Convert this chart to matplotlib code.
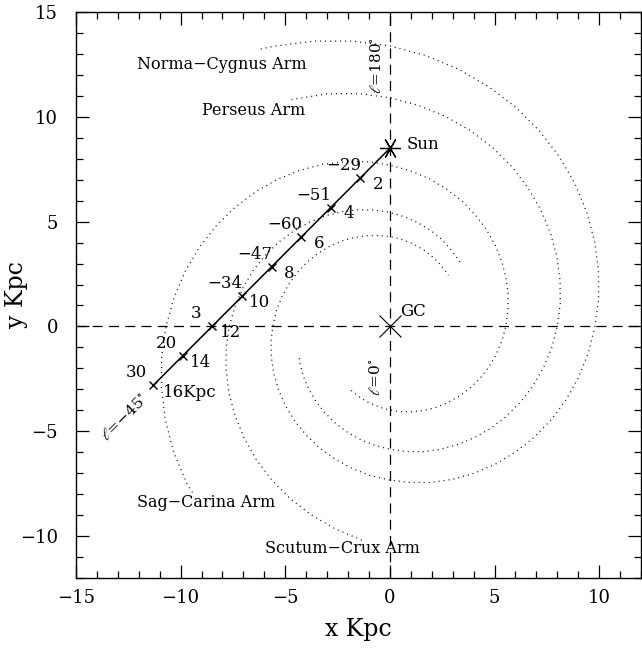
import numpy as np
import matplotlib
matplotlib.use("Agg")
import matplotlib.pyplot as plt
from matplotlib.ticker import MultipleLocator

plt.rcParams['font.family'] = ['DejaVu Serif']
plt.rcParams['mathtext.fontset'] = 'dejavuserif'

# spiral arms: galactocentric angle (deg) and radius (kpc)
norma_theta = [115, 112.5, 105, 97.5, 90, 82.5, 75, 67.5, 60, 52.5,
               45, 37.5, 30, 22.5, 15, 7.5, 0, -7.5, -15, -22.5,
               -30, -37.5, -45, -52.5, -60, -67.5, -75, -82.5, -90, -97.5,
               -105, -112.5, -120, -127.5, -135, -142.5, -150, -157.5, -165, -172.5,
               -180, -187.5, -195, -202.5, -210, -217.5, -225, -232.5, -240, -247.5,
               -255, -262.5, -270, -277.5, -285, -292.5, -300, -307.5, -315, -319]
norma_r = [14.6, 14.47, 14.09, 13.73, 13.38, 13.04, 12.70, 12.37, 12.06, 11.75,
           11.45, 11.16, 10.87, 10.59, 10.32, 10.06, 9.80, 9.57, 9.34, 9.12,
           8.90, 8.69, 8.48, 8.28, 8.08, 7.89, 7.70, 7.51, 7.33, 7.17,
           7.01, 6.85, 6.70, 6.55, 6.41, 6.27, 6.13, 5.99, 5.86, 5.73,
           5.60, 5.48, 5.36, 5.24, 5.12, 5.01, 4.90, 4.79, 4.69, 4.58,
           4.48, 4.38, 4.29, 4.19, 4.10, 4.01, 3.92, 3.83, 3.75, 3.71]

perseus_theta = [113.5, 105, 97.5, 90, 82.5, 75, 67.5, 60, 52.5, 45,
                 37.5, 30, 22.5, 15, 7.5, 0, -7.5, -15, -22.5, -30,
                 -37.5, -45, -52.5, -60, -67.5, -75, -82.5, -90, -97.5, -105,
                 -112.5, -120, -127.5, -135, -142.5, -150, -157.5, -163]
perseus_r = [11.80, 11.49, 11.20, 10.91, 10.63, 10.36, 10.10, 9.84, 9.59, 9.34,
             9.10, 8.87, 8.64, 8.42, 8.21, 8.00, 7.80, 7.60, 7.40, 7.21,
             7.03, 6.85, 6.67, 6.50, 6.34, 6.18, 6.02, 5.86, 5.71, 5.57,
             5.43, 5.29, 5.15, 5.02, 4.89, 4.77, 4.65, 4.55]

sag_theta = [220, 217.5, 210, 202.5, 195, 187.5, 180, 172.5, 165, 157.5,
             150, 142.5, 135, 127.5, 120, 112.5, 105, 97.5, 90, 82.5,
             75, 67.5, 60, 52.5, 45, 37.5, 30, 22.5, 15, 7.5,
             0, -7.5, -15, -22.5, -30, -37.5, -45, -52.5, -60, -67.5,
             -75, -82.5, -90, -97.5, -105, -112.5, -120, -124]
sag_r = [12.32, 12.25, 11.94, 11.62, 11.30, 11.00, 10.70, 10.41, 10.13, 9.86,
         9.59, 9.33, 9.08, 8.84, 8.60, 8.37, 8.14, 7.92, 7.70, 7.49,
         7.29, 7.09, 6.90, 6.71, 6.53, 6.35, 6.18, 6.01, 5.85, 5.69,
         5.54, 5.39, 5.25, 5.11, 4.97, 4.83, 4.70, 4.57, 4.45, 4.33,
         4.21, 4.10, 3.99, 3.88, 3.78, 3.68, 3.58, 3.55]

scutum_theta = [262.5, 255, 247.5, 240, 232.5, 225, 217.5, 210, 202.5, 195,
                187.5, 180, 172.5, 165, 157.5, 150, 142.5, 135, 127.5, 120,
                112.5, 105, 97.5, 90, 82.5, 75, 67.5, 60, 52.5, 45, 41.6]
scutum_r = [10.28, 10.01, 9.75, 9.50, 9.25, 9.01, 8.77, 8.54, 8.32, 8.10,
            7.89, 7.68, 7.46, 7.25, 7.05, 6.85, 6.65, 6.46, 6.28, 6.10,
            5.93, 5.76, 5.60, 5.44, 5.28, 5.13, 4.99, 4.85, 4.71, 4.58, 4.52]

arms = [(norma_theta, norma_r), (perseus_theta, perseus_r),
        (sag_theta, sag_r), (scutum_theta, scutum_r)]

arm_names = ['Norma\u2212Cygnus Arm', 'Perseus Arm', 'Sag\u2212Carina Arm', 'Scutum\u2212Crux Arm']
arm_label_x = [-12.1, -9.0, -12.1, -5.95]
arm_label_y = [12.5, 10.3, -8.4, -10.6]

# line of sight at l = -45 deg from the Sun
sun = (0.0, 8.5)
los_l = -45.0
dist = [2, 4, 6, 8, 10, 12, 14, 16]
vel = [-29, -51, -60, -47, -34, 3, 20, 30]

fig = plt.figure(figsize=(6.42, 6.48), dpi=100)
ax = fig.add_axes([76/642, 70/648, 565/642, 566/648])

for th, r in arms:
    th = np.radians(th)
    r = np.array(r)
    ax.plot(r*np.cos(th), r*np.sin(th), color='k', lw=0.9,
            linestyle=(0, (0.8, 3.2)))

ax.axhline(0, color='k', lw=0.9, dashes=(8, 5))
ax.axvline(0, color='k', lw=0.9, dashes=(8, 5))

# sight line and distance marks
ang = np.radians(los_l)
d = np.array([0] + dist)
lx = sun[0] + d*np.sin(ang)
ly = sun[1] - d*np.cos(ang)
ax.plot(lx, ly, color='k', lw=1.1)
ax.plot(lx[1:], ly[1:], 'x', color='k', ms=6, mew=1.0)

for i in range(len(dist)):
    x, y = lx[i+1], ly[i+1]
    ax.annotate(str(vel[i]).replace('-', '\u2212'), (x, y), xytext=(-12, 9),
                textcoords='offset points', ha='center', va='center', fontsize=12)
    if i == len(dist) - 1:
        ax.annotate('%dKpc' % dist[i], (x, y), xytext=(7, -5),
                    textcoords='offset points', ha='left', va='center', fontsize=12)
    else:
        ax.annotate(str(dist[i]), (x, y), xytext=(13, -4.5),
                    textcoords='offset points', ha='center', va='center', fontsize=12)

ax.plot(sun[0], sun[1], marker=(6, 2, 90), color='k', ms=15, mew=0.9)
ax.plot(0, 0, 'x', color='k', ms=16, mew=0.8)

ax.text(0.8, 8.7, 'Sun', fontsize=12, ha='left', va='center')
ax.text(0.5, 0.7, 'GC', fontsize=12, ha='left', va='center')
ax.text(-0.62, 12.45, r'$\ell$=180$^{\circ}$', fontsize=11, rotation=90,
        ha='center', va='center')
ax.text(-0.7, -2.4, r'$\ell$=0$^{\circ}$', fontsize=11, rotation=90,
        ha='center', va='center')
ax.text(-12.7, -4.35, r'$\ell$=$-$45$^{\circ}$', fontsize=11, rotation=45,
        ha='center', va='center')

for name, x, y in zip(arm_names, arm_label_x, arm_label_y):
    ax.text(x, y, name, fontsize=11.5, ha='left', va='center')

ax.set_xlim(-15, 12)
ax.set_ylim(-12, 15)
ax.xaxis.set_major_locator(MultipleLocator(5))
ax.yaxis.set_major_locator(MultipleLocator(5))
ax.xaxis.set_minor_locator(MultipleLocator(1))
ax.yaxis.set_minor_locator(MultipleLocator(1))
ax.tick_params(which='both', direction='in', top=True, right=True, width=0.9)
ax.tick_params(which='major', length=9.5, labelsize=13)
ax.tick_params(which='minor', length=5)
ax.tick_params(axis='x', pad=8)
ax.tick_params(axis='y', pad=13)
for s in ax.spines.values():
    s.set_linewidth(1.0)

ax.set_xlabel('x Kpc', fontsize=17, labelpad=8)
ax.set_ylabel('y Kpc', fontsize=17)
ax.yaxis.set_label_coords(-0.085, 0.5)

fig.savefig('out.png', dpi=100)
